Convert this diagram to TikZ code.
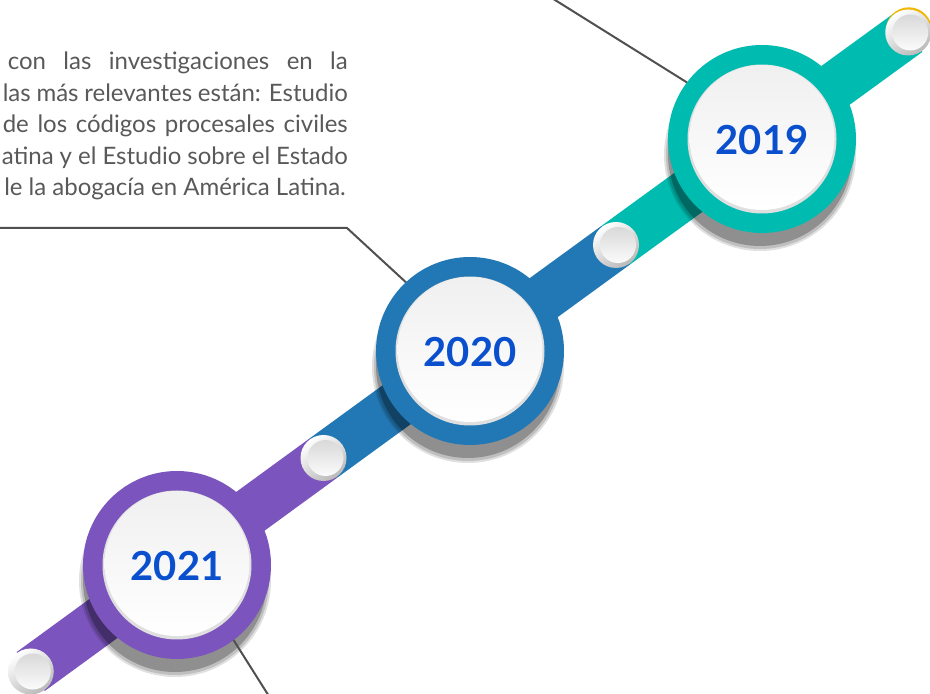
\documentclass[tikz,border=0pt]{standalone}
\usepackage{fontspec}
\setmainfont{Lato}
\newfontfamily\yearfont{Lato}
\usetikzlibrary{calc}
\definecolor{tealc}{HTML}{00BCB0}
\definecolor{bluec}{HTML}{2278B5}
\definecolor{purplec}{HTML}{7B55BD}
\definecolor{yellowc}{HTML}{F2B705}
\definecolor{yearc}{HTML}{0A50CE}
\definecolor{txtgray}{HTML}{595959}
\definecolor{linegray}{HTML}{505050}
\tikzset{
  band/.style={line width=48pt, line cap=butt},
  conn/.style={draw=linegray, line width=2pt},
  ring/.style={circle, minimum size=188pt, inner sep=0pt, outer sep=0pt},
  yeartext/.style={text=yearc, font=\yearfont\bfseries\fontsize{40}{40}\selectfont},
  bodyline/.style={anchor=base east, inner sep=0pt, text=txtgray, font=\fontsize{24}{28}\selectfont},
}
\newcommand{\ballat}[1]{%
  \shade[top color=white, bottom color=gray!55, shading angle=35] (#1) circle (23pt);
  \shade[top color=gray!30, bottom color=gray!3] ($(#1)+(2pt,0)$) circle (18pt);
}
\newcommand{\badge}[4]{% name, center, color, year
  \fill[black, opacity=0.12] ($(#2)+(-2pt,-16pt)$) circle (96pt);
  \fill[black, opacity=0.15] ($(#2)+(-2pt,-16pt)$) circle (94pt);
  \fill[black, opacity=0.25] ($(#2)+(-2pt,-15pt)$) circle (92pt);
  \node[ring, fill=#3] (#1) at (#2) {};
  \fill[gray!25] (#2) circle (74.5pt);
  \shade[top color=gray!12, bottom color=white] ($(#2)+(0,1.5pt)$) circle (72.5pt);
  \node[yeartext] (#1t) at ($(#2)+(0,-1.5pt)$) {#4};
}
\begin{document}
\begin{tikzpicture}[x=1pt,y=1pt]
\useasboundingbox (0,0) rectangle (930,694);
\clip (0,0) rectangle (930,694);
% centres
\coordinate (p2021) at (177,129);
\coordinate (p2020) at (470,343);
\coordinate (p2019) at (762,555);
\coordinate (b0) at (30.75,22.5);
\coordinate (b1) at (323.5,236);
\coordinate (b2) at (616,449);
\coordinate (b3) at (908.25,661.5);
% band
\draw[band, draw=purplec] (b0) -- (b1);
\draw[band, draw=bluec] (b1) -- (b2);
\draw[band, draw=tealc] (b2) -- (b3);
\fill[yellowc] ($(b3)+(0.6pt,2.2pt)$) circle (23pt);
\ballat{b0}
\ballat{b1}
\ballat{b2}
\ballat{b3}
% connector ends
\coordinate (e2019) at (550.2,697);
\coordinate (k2020) at (347,466);
\coordinate (s2020) at (-2,466);
\coordinate (e2021) at (269.5,-3);
% badges
\badge{c2021}{p2021}{purplec}{2021}
\badge{c2020}{p2020}{bluec}{2020}
\badge{c2019}{p2019}{tealc}{2019}
% connectors
\draw[conn] (e2019) -- (c2019.143.3);
\draw[conn] (s2020) -- (k2020) -- (c2020.133.7);
\draw[conn] (c2021.-53.3) -- (e2021);
% text
\node[bodyline] (l1) at (348,624) {\makebox[340pt][s]{con las investigaciones en la}};
\node[bodyline] (l2) at (348,592.5) {\makebox[345pt][s]{las más relevantes están: Estudio}};
\node[bodyline] (l3) at (348,561) {\makebox[345pt][s]{de los códigos procesales civiles}};
\node[bodyline] (l4) at (348,529.5) {\makebox[346pt][s]{atina y el Estudio sobre el Estado}};
\node[bodyline] (l5) at (346,498) {le la abogacía en América Latina.};
\end{tikzpicture}
\end{document}
